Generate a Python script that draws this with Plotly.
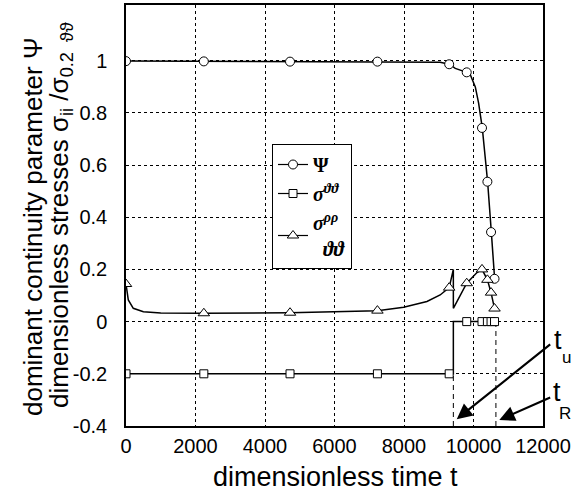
import plotly.graph_objects as go

# ---- data ----
t_mark = [0, 2240, 4720, 7235, 9300, 9805, 10245, 10400, 10505, 10605]

t_psi_line = [0, 2240, 4720, 7235, 8500, 9040, 9300, 9476, 9805, 9908, 10052, 10147, 10253, 10291, 10340, 10406, 10513, 10608]
psi_line = [0.998, 0.997, 0.996, 0.996, 0.995, 0.994, 0.986, 0.970, 0.955, 0.946, 0.899, 0.837, 0.742, 0.696, 0.620, 0.536, 0.343, 0.164]
psi_mark = [0.998, 0.997, 0.996, 0.996, 0.986, 0.955, 0.742, 0.536, 0.343, 0.164]

t_tri_line = [0, 66, 210, 500, 1000, 2240, 4720, 5970, 7235, 7990, 8660, 9040, 9300, 9420, 9420, 9805, 10100, 10245, 10400, 10505, 10605]
tri_line = [0.144, 0.083, 0.051, 0.038, 0.033, 0.032, 0.034, 0.038, 0.042, 0.055, 0.077, 0.102, 0.130, 0.200, 0.051, 0.147, 0.188, 0.200, 0.160, 0.111, 0.050]
tri_mark = [0.144, 0.032, 0.034, 0.042, 0.130, 0.147, 0.200, 0.160, 0.111, 0.050]

t_sq_line = [0, 9420, 9420, 10605]
sq_line = [-0.2, -0.2, 0.0, 0.0]
sq_mark = [-0.2, -0.2, -0.2, -0.2, -0.2, 0.0, 0.0, 0.0, 0.0, 0.0]

t_u = 9420
t_R = 10645
x_ticks = [0, 2000, 4000, 6000, 8000, 10000, 12000]
x_tick_labels = ["0", "2000", "4000", "6000", "8000", "10000", "12000"]
y_ticks = [-0.4, -0.2, 0, 0.2, 0.4, 0.6, 0.8, 1]
y_tick_labels = ["-0.4", "-0.2", "0", "0.2", "0.4", "0.6", "0.8", "1"]

W, H = 572, 495
ML, MR, MT, MB = 126, 29, 5, 69
PW, PH = W - ML - MR, H - MT - MB


def px(xp):
    return (xp - ML) / PW


def py(yp):
    return (H - MB - yp) / PH


fig = go.Figure()
LC = "black"

# lines
fig.add_trace(go.Scatter(x=t_psi_line, y=psi_line, mode="lines", line=dict(color=LC, width=1.5),
                         showlegend=False, hoverinfo="skip"))
fig.add_trace(go.Scatter(x=t_tri_line, y=tri_line, mode="lines", line=dict(color=LC, width=1.5),
                         showlegend=False, hoverinfo="skip"))
fig.add_trace(go.Scatter(x=t_sq_line, y=sq_line, mode="lines", line=dict(color=LC, width=1.5),
                         showlegend=False, hoverinfo="skip"))
# dashed marker lines
fig.add_trace(go.Scatter(x=[t_u, t_u], y=[-0.4, -0.2], mode="lines",
                         line=dict(color=LC, width=1, dash="5px,4px"), showlegend=False, hoverinfo="skip"))
fig.add_trace(go.Scatter(x=[t_R, t_R], y=[-0.4, 0.0], mode="lines",
                         line=dict(color=LC, width=1, dash="5px,4px"), showlegend=False, hoverinfo="skip"))

mk = dict(color="white", line=dict(color=LC, width=1))
fig.add_trace(go.Scatter(x=t_mark, y=psi_mark, mode="markers", showlegend=False,
                         marker=dict(symbol="circle", size=9, **mk)))
fig.add_trace(go.Scatter(x=t_mark, y=sq_mark, mode="markers", showlegend=False,
                         marker=dict(symbol="square", size=8, **mk)))
fig.add_trace(go.Scatter(x=t_mark, y=tri_mark, mode="markers", showlegend=False,
                         marker=dict(symbol="triangle-up", size=10, **mk)))

# legend entries
names = ["<b>Ψ</b>",
         "<b><i>σ</i></b><sup><b><i>ϑϑ</i></b></sup>",
         "<b><i>σ</i></b><sup><b><i>ρρ</i></b></sup><br>  <b><i>ϑϑ</i></b>"]
symbols = ["circle", "square", "triangle-up"]
sizes = [9, 8, 10]
for n, s, sz in zip(names, symbols, sizes):
    fig.add_trace(go.Scatter(x=[None], y=[None], mode="lines+markers", name=n,
                             line=dict(color=LC, width=1.2),
                             marker=dict(symbol=s, size=sz, **mk)))

axis_common = dict(showline=True, linecolor="black", linewidth=1.5, mirror=True,
                   showgrid=True, gridcolor="#000000", griddash="dot", gridwidth=1,
                   zeroline=False, ticks="", automargin=False, layer="above traces",
                   tickfont=dict(family="Liberation Sans, Arial", size=20, color="black"))

fig.update_layout(
    width=W, height=H,
    margin=dict(l=ML, r=MR, t=MT, b=MB, pad=0, autoexpand=False),
    paper_bgcolor="white", plot_bgcolor="white",
    xaxis=dict(range=[0, 12000], tickvals=x_ticks, ticktext=x_tick_labels, ticklabelstandoff=1, **axis_common),
    yaxis=dict(range=[-0.4, 1.213], tickvals=y_ticks, ticktext=y_tick_labels,
               ticklabelstandoff=13, **axis_common),
    legend=dict(x=px(272), y=py(144), xanchor="left", yanchor="top",
                bordercolor="black", borderwidth=1, bgcolor="white",
                font=dict(family="Liberation Serif", size=20, color="black"),
                itemwidth=30, tracegroupgap=0),
    showlegend=True,
)

ann = []
big = dict(family="Liberation Sans, Arial", size=26, color="black")
ann.append(dict(text="dimensionless time t", x=px(335), y=py(477), xref="paper", yref="paper",
                showarrow=False, font=dict(family="Liberation Sans, Arial", size=27, color="black"),
                xanchor="center", yanchor="middle"))
ann.append(dict(text="dominant continuity parameter Ψ", x=px(33), y=py(227), xref="paper", yref="paper",
                showarrow=False, font=big, textangle=-90, xanchor="center", yanchor="middle"))
ann.append(dict(text="dimensionless stresses σ<sub>ii</sub> /σ<sub>0.2</sub><sup> </sup><sub> ϑϑ</sub>",
                x=px(59), y=py(215), xref="paper", yref="paper",
                showarrow=False, font=big, textangle=-90, xanchor="center", yanchor="middle"))
# t_u and t_R labels
tf = dict(family="Liberation Sans, Arial", size=27, color="black")
sf = dict(family="Liberation Sans, Arial", size=17, color="black")
for txt, xp, yp, f in [("t", 558, 340, tf), ("u", 566, 357, sf), ("t", 557, 392, tf), ("R", 565, 413, sf)]:
    ann.append(dict(text=txt, x=px(xp), y=py(yp), xref="paper", yref="paper", showarrow=False, font=f,
                    xanchor="center", yanchor="middle"))
# arrows
ann.append(dict(x=9517, y=-0.374, ax=12250, ay=-0.083, xref="x", yref="y", axref="x", ayref="y",
                text="", showarrow=True, arrowhead=2, arrowsize=1.4, arrowwidth=2.2, arrowcolor="black",
                standoff=0, startstandoff=0))
ann.append(dict(x=10743, y=-0.377, ax=12250, ay=-0.288, xref="x", yref="y", axref="x", ayref="y",
                text="", showarrow=True, arrowhead=2, arrowsize=1.4, arrowwidth=2.2, arrowcolor="black",
                standoff=0, startstandoff=0))
fig.update_layout(annotations=ann)

fig.write_html("out.html", config={"displayModeBar": False},
               post_script="document.body.style.margin='0';document.body.style.overflow='hidden';")
